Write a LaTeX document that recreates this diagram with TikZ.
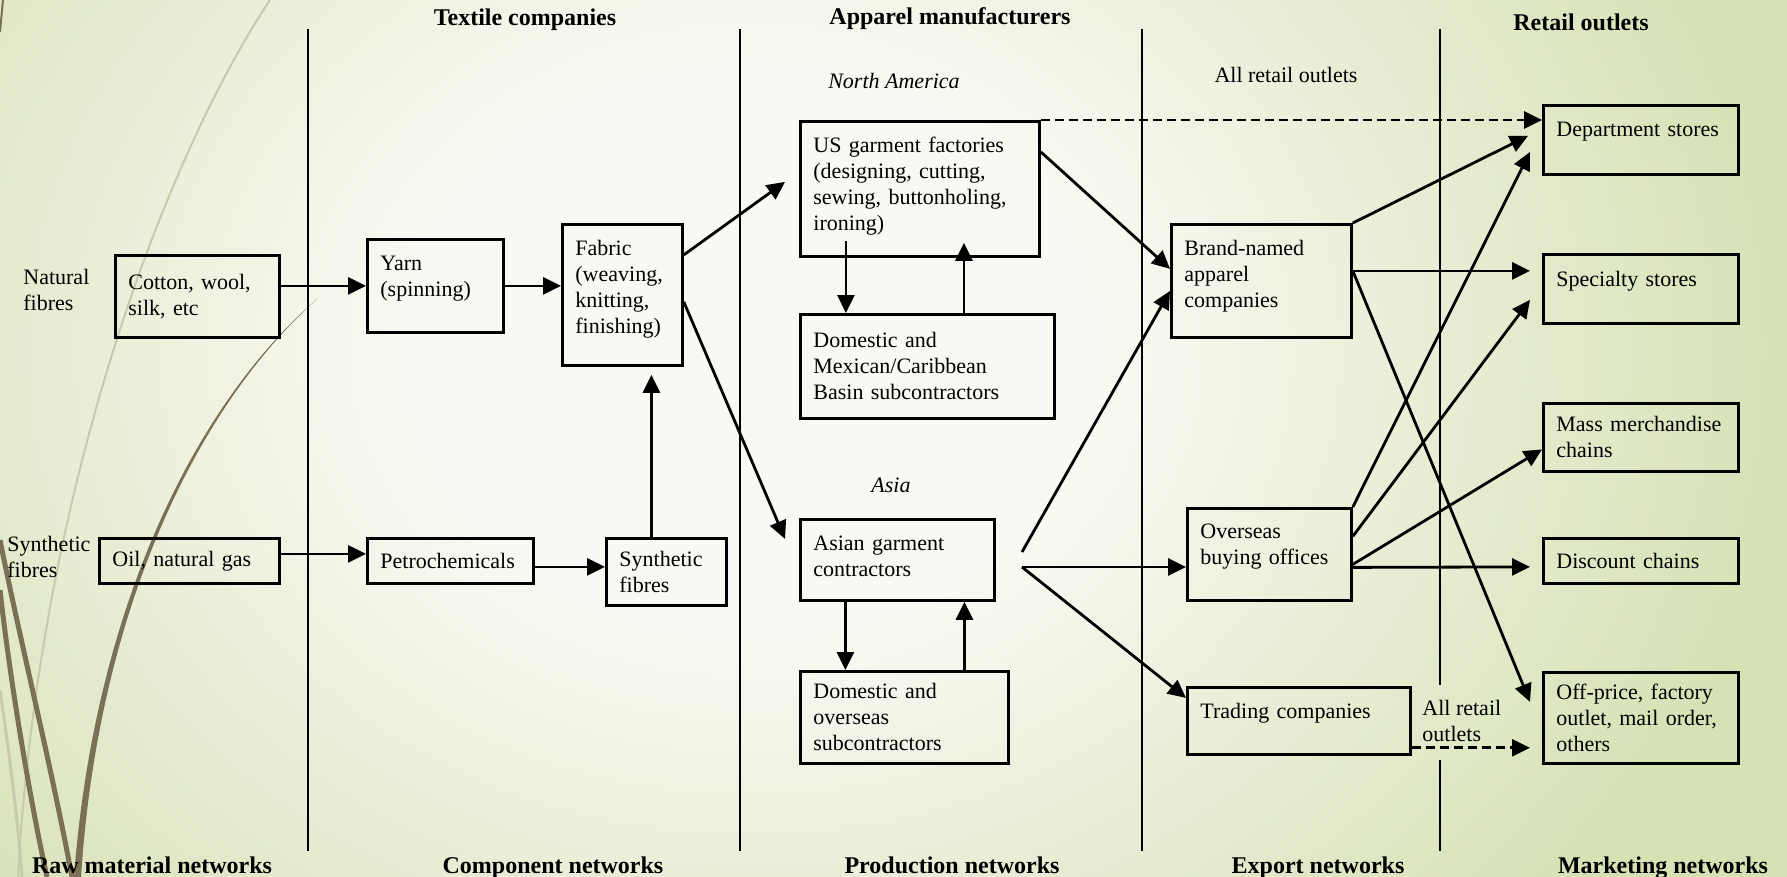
\documentclass[tikz,border=0pt]{standalone}
\usepackage{fontspec}
\setmainfont{Liberation Serif}
\usepackage{tikz}
\usetikzlibrary{arrows.meta}
\usepackage{xcolor}

\definecolor{bgmid}{HTML}{F8F9F2}
\definecolor{bgedge}{HTML}{D6E1B4}
\definecolor{stem}{HTML}{7B7055}
\definecolor{stemlight}{HTML}{C9C9AE}
\pgfdeclareradialshading{slidebg}{\pgfpoint{0bp}{0bp}}{color(0bp)=(bgmid); color(8bp)=(bgmid); color(24bp)=(bgedge); color(50bp)=(bgedge)}

\newcommand{\pushup}[1]{\rule[-#1]{0pt}{#1}}

\begin{document}
\begin{tikzpicture}[x=1pt,y=-1pt,line width=2.8pt,>={Triangle[length=18pt,width=17pt]}]
\tikzset{
    stage/.style={%
        draw, rectangle,
        anchor=north west,
        inner xsep=13pt, inner ysep=0pt,
        align=left,
        font=\fontsize{22}{26}\selectfont
        },
    head/.style={%
        anchor=base,
        font=\fontsize{24}{28}\selectfont\bfseries
        },
    region/.style={anchor=base, font=\fontsize{22}{26}\selectfont\itshape},
    note/.style={inner sep=0pt, align=left, font=\fontsize{22}{26}\selectfont},
    flow/.style={->},
    direct/.style={->, dash pattern=on 9pt off 5pt},
}
%%%BACKGROUND
\useasboundingbox (0,0) rectangle (1787,877);
\begin{scope}
\clip (0,0) rectangle (1787,877);
\shade[shading=slidebg] (-350,-550) rectangle (1850,1250);
\end{scope}
\draw[stemlight, line width=2pt] (270,0) .. controls (170,150) and (40,480) .. (18,877);
\draw[stemlight, line width=3pt] (0,690) .. controls (10,760) and (18,820) .. (22,877);
\fill[stem] (317,299) .. controls (200,400) and (95,600) .. (74,877) -- (81,877) .. controls (99,600) and (203,401) .. (317,299);
\draw[stem, line width=5pt] (0,540) .. controls (20,640) and (50,760) .. (72,877);
\draw[stem, line width=5pt] (0,590) .. controls (10,680) and (30,800) .. (47,877);
\draw[stem, line width=2pt] (3,0) -- (0,32);
%%%STAGE DIVIDERS
\foreach \x in {308,740,1142}
    \draw (\x,29) -- (\x,851);
\draw (1440,29) -- (1440,685) (1440,760) -- (1440,851);
%%%HEADINGS
\node[head] (ttextile) at (525,26) {Textile companies};
\node[head] (tapparel) at (950,25) {Apparel manufacturers};
\node[head] (tretail) at (1581,31) {Retail outlets};
\node[head] (braw) at (152,873) {Raw material networks};
\node[head] (bcomp) at (553,873) {Component networks};
\node[head] (bprod) at (952,873) {Production networks};
\node[head] (bexport) at (1318,873) {Export networks};
\node[head] (bmarket) at (1663,873) {Marketing networks};
\node[region] (tna) at (894,89) {North America};
\node[region] (tasia) at (891,492) {Asia};
\node[note, anchor=base] (tall) at (1286,83) {All retail outlets};
\node[note, anchor=west] (tallb) at (1421,721) {All retail\\outlets};
\node[note, anchor=west] (tnat) at (22,290) {Natural\\fibres};
\node[note, anchor=west] (tsyn) at (6,557) {Synthetic\\fibres};
%%%STAGES
\node[stage, text width=138pt, minimum height=82pt] (cotton) at (114,254) {Cotton, wool,\\silk, etc};
\node[stage, text width=154pt, minimum height=45pt] (oil) at (98,537) {Oil, natural gas};
\node[stage, text width=110pt, minimum height=93pt] (yarn) at (366,238) {Yarn\\(spinning)\pushup{20pt}};
\node[stage, text width=140pt, minimum height=45pt] (petro) at (366,537) {Petrochemicals};
\node[stage, text width=94pt, minimum height=141pt] (fabric) at (561,223) {Fabric\\(weaving,\\knitting,\\finishing)\pushup{17pt}};
\node[stage, text width=94pt, minimum height=67pt] (synth) at (605,537) {Synthetic\\fibres};
\node[stage, text width=213pt, minimum height=135pt] (us) at (799,120) {US garment factories\\(designing, cutting,\\sewing, buttonholing,\\ironing)\pushup{11pt}};
\node[stage, text width=228pt, minimum height=104pt] (domna) at (799,313) {Domestic and\\Mexican/Caribbean\\Basin subcontractors};
\node[stage, text width=168pt, minimum height=81pt] (asian) at (799,518) {Asian garment\\contractors\pushup{8pt}};
\node[stage, text width=182pt, minimum height=92pt] (domasia) at (799,670) {Domestic and\\overseas\\subcontractors};
\node[stage, text width=154pt, minimum height=113pt] (brand) at (1170,223) {Brand-named\\apparel\\companies\pushup{14pt}};
\node[stage, text width=138pt, minimum height=92pt] (overseas) at (1186,507) {Overseas\\buying offices\pushup{20pt}};
\node[stage, text width=197pt, minimum height=67pt] (trading) at (1186,686) {Trading companies\pushup{21pt}};
\node[stage, text width=169pt, minimum height=69pt] (dept) at (1542,104) {Department stores\pushup{21pt}};
\node[stage, text width=169pt, minimum height=69pt] (special) at (1542,253) {Specialty stores\pushup{21pt}};
\node[stage, text width=169pt, minimum height=68pt] (mass) at (1542,402) {Mass merchandise\\chains};
\node[stage, text width=169pt, minimum height=45pt] (discount) at (1542,537) {Discount chains};
\node[stage, text width=169pt, minimum height=91pt] (offprice) at (1542,671) {Off-price, factory\\outlet, mail order,\\others};
\coordinate (fork) at (1022,567);
\coordinate (forkup) at (1022,552);
%%%FLOWS
\draw[flow] (cotton.east |- yarn.west) -- (yarn.west);
\draw[flow] (yarn.east) -- (yarn.east -| fabric.west);
\draw[flow] ([shift={(0,-7)}]oil.east) -- ([shift={(0,-7)}]oil.east -| petro.west);
\draw[flow] ([shift={(0,6)}]petro.east) -- ([shift={(0,6)}]petro.east -| synth.west);
\draw[flow, shorten >=8pt] ([xshift=-15pt]synth.north) -- ([xshift=-15pt]synth.north |- fabric.south);
\draw[flow] ([shift={(0,-40)}]fabric.east) -- ([shift={(-14,-7)}]us.west);
\draw[flow] ([shift={(0,7)}]fabric.east) -- ([shift={(-14,-21)}]asian.west);
\draw[flow] ([shift={(-74,-17)}]us.south) -- ([xshift=-74pt]us.south |- domna.north);
\draw[flow] ([xshift=44pt]us.south |- domna.north) -- ([shift={(44,-15)}]us.south);
\draw[flow] ([xshift=-52pt]asian.south) -- ([xshift=-52pt]asian.south |- domasia.north);
\draw[flow] ([xshift=67pt]asian.south |- domasia.north) -- ([xshift=67pt]asian.south);
\draw[flow] ([shift={(0,-37)}]us.east) -- ([shift={(0,-12)}]brand.west);
\draw[flow] (forkup) -- ([shift={(0,10)}]brand.west);
\draw[flow] (fork) -- (fork -| overseas.west);
\draw[flow] (fork) -- ([shift={(0,-23)}]trading.west);
\draw[flow] (brand.north east) -- ([shift={(-14,-4)}]dept.west);
\draw[flow] ([shift={(0,-10)}]brand.east) -- ([shift={(-12,-18)}]special.west);
\draw[flow] ([shift={(0,-10)}]brand.east) -- ([shift={(-12,-16)}]offprice.west);
\draw[flow] (overseas.north east) -- ([shift={(-12,12)}]dept.west);
\draw[flow] ([shift={(0,-18)}]overseas.east) -- ([shift={(-12,11)}]special.west);
\draw[flow] ([shift={(0,10)}]overseas.east) -- ([shift={(0,12)}]mass.west);
\draw[flow] ([shift={(0,13)}]overseas.east) -- ([shift={(-12,6)}]discount.west);
%%%ALL RETAIL OUTLETS
\draw[direct] (us.north east) -- (us.north east -| dept.west);
\draw[direct, shorten >=12pt] ([shift={(0,-8)}]trading.south east) -- ([shift={(0,-8)}]trading.south east -| offprice.west);
\end{tikzpicture}
\end{document}
